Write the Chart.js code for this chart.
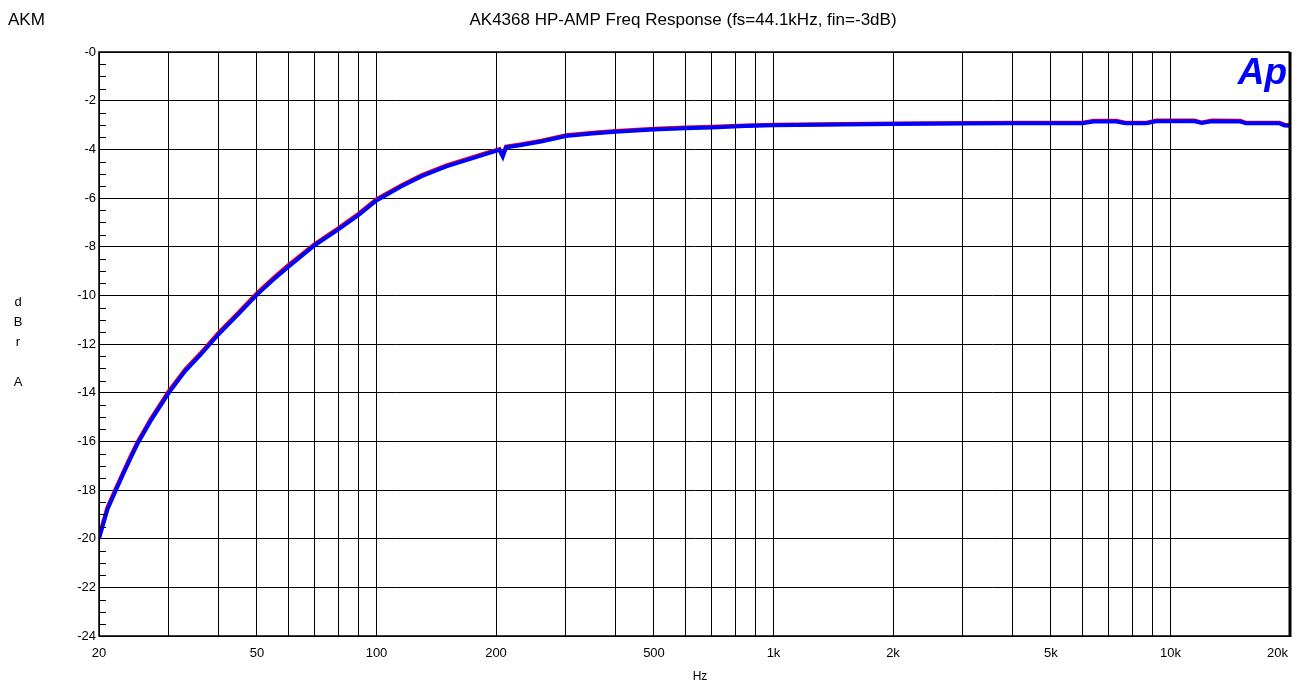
<!DOCTYPE html>
<html>
<head>
<meta charset="utf-8">
<script src="https://cdn.jsdelivr.net/npm/chart.js@4.4.1/dist/chart.umd.min.js"></script>
<style>
  html, body { margin: 0; padding: 0; background: #fff; }
  #wrap { width: 1301px; height: 688px; position: relative; }
</style>
</head>
<body>
<div id="wrap"><canvas id="freqChart"></canvas></div>
<script>
// frequency response
const freqHz = [20, 21, 22, 23, 24, 25, 27, 30, 33, 36, 40, 45, 50, 55, 60, 70, 80, 90, 100,
    115, 130, 150, 170, 190, 200, 204, 208, 212, 230, 260, 300, 350, 400, 500, 600, 700, 850,
    1000, 1500, 2000, 3000, 4000, 5000, 6000, 6400, 7300, 7700, 8700, 9200, 11500, 12000,
    12700, 15000, 15500, 18800, 19400, 20000];

const blueDb = [-20.0, -18.8, -18.05, -17.35, -16.7, -16.1, -15.15, -14.0, -13.1, -12.45, -11.6,
    -10.75, -9.97, -9.35, -8.82, -7.93, -7.3, -6.7, -6.1,
    -5.54, -5.1, -4.7, -4.42, -4.18, -4.06, -4.02, -4.3, -3.92, -3.83, -3.68, -3.45, -3.35,
    -3.28, -3.18, -3.13, -3.1, -3.04,
    -3.01, -2.98, -2.96, -2.94, -2.93, -2.93, -2.93, -2.86, -2.86, -2.93, -2.93, -2.85, -2.85,
    -2.92, -2.85, -2.86, -2.93, -2.93, -3.02, -3.03];

const redDb = [-19.92, -18.72, -17.97, -17.28, -16.63, -16.03, -15.08, -13.93, -13.04, -12.39,
    -11.54, -10.69, -9.91, -9.29, -8.76, -7.88, -7.25, -6.65, -6.05,
    -5.5, -5.06, -4.66, -4.38, -4.14, -4.03, -3.99, -4.24, -3.89, -3.8, -3.65, -3.42, -3.32,
    -3.25, -3.15, -3.1, -3.07, -3.02,
    -2.99, -2.96, -2.94, -2.92, -2.91, -2.91, -2.91, -2.83, -2.83, -2.91, -2.91, -2.82, -2.82,
    -2.9, -2.82, -2.83, -2.91, -2.91, -2.99, -3.0];

const xGrid = [20, 30, 40, 50, 60, 70, 80, 90, 100, 200, 300, 400, 500, 600, 700, 800, 900,
    1000, 2000, 3000, 4000, 5000, 6000, 7000, 8000, 9000, 10000, 20000];
const xLabelValues = [20, 50, 100, 200, 500, 1000, 2000, 5000, 10000, 20000];
const xLabelText = ['20', '50', '100', '200', '500', '1k', '2k', '5k', '10k', '20k'];
const yTicks = [0, -2, -4, -6, -8, -10, -12, -14, -16, -18, -20, -22, -24];
const yLabelText = ['-0', '-2', '-4', '-6', '-8', '-10', '-12', '-14', '-16', '-18', '-20', '-22', '-24'];

const FONT = '"Liberation Sans", Arial, sans-serif';

function toPoints(ys) {
    return freqHz.map((f, i) => ({ x: f, y: ys[i] }));
}

// text, minor ticks and frame drawn over the chart
const apDecor = {
    id: 'apDecor',
    afterDraw(chart) {
        const ctx = chart.ctx;
        const xs = chart.scales.x;
        const ys = chart.scales.y;
        const a = chart.chartArea;
        ctx.save();

        // minor ticks on left axis, every 0.5 dB
        ctx.strokeStyle = '#000';
        ctx.lineWidth = 1;
        for (let v = 0; v >= -24; v -= 0.5) {
            if (v % 2 === 0) continue;
            const py = Math.round(ys.getPixelForValue(v)) + 0.5;
            ctx.beginPath();
            ctx.moveTo(a.left, py);
            ctx.lineTo(a.left + 7, py);
            ctx.stroke();
        }

        // frame
        ctx.lineWidth = 1.5;
        ctx.beginPath();
        ctx.moveTo(a.right, a.top);
        ctx.lineTo(a.left, a.top);
        ctx.lineTo(a.left, a.bottom);
        ctx.lineTo(a.right, a.bottom);
        ctx.stroke();
        ctx.lineWidth = 3;
        ctx.beginPath();
        ctx.moveTo(a.right, a.top);
        ctx.lineTo(a.right, a.bottom + 1);
        ctx.stroke();

        ctx.fillStyle = '#000';
        // y tick labels
        ctx.font = '13px ' + FONT;
        ctx.textAlign = 'right';
        ctx.textBaseline = 'middle';
        yTicks.forEach((v, i) => {
            ctx.fillText(yLabelText[i], a.left - 3, ys.getPixelForValue(v));
        });

        // x tick labels
        ctx.textBaseline = 'middle';
        xLabelValues.forEach((v, i) => {
            const last = i === xLabelValues.length - 1;
            ctx.textAlign = last ? 'right' : 'center';
            const px = xs.getPixelForValue(v);
            ctx.fillText(xLabelText[i], last ? px - 2 : px, a.bottom + 17);
        });

        // axis titles
        ctx.font = '12px ' + FONT;
        ctx.textAlign = 'center';
        ctx.fillText('Hz', 700, 677);
        ctx.font = '13px ' + FONT;
        [['d', 302], ['B', 322], ['r', 342], ['A', 382]].forEach(([ch, y]) => {
            ctx.fillText(ch, 18, y);
        });

        // header
        ctx.font = '17px ' + FONT;
        ctx.textAlign = 'left';
        ctx.fillText('AKM', 8, 20);
        ctx.textAlign = 'center';
        ctx.fillText('AK4368 HP-AMP Freq Response (fs=44.1kHz, fin=-3dB)', 683, 20);

        // Ap logo
        ctx.fillStyle = '#0000ff';
        ctx.font = 'italic bold 37px ' + FONT;
        ctx.textAlign = 'right';
        ctx.textBaseline = 'alphabetic';
        ctx.fillText('Ap', a.right - 3, 84);

        ctx.restore();
    }
};

new Chart(document.getElementById('freqChart'), {
    type: 'line',
    data: {
        datasets: [
            {
                label: 'Ch B',
                data: toPoints(blueDb),
                borderColor: '#0000ff',
                borderWidth: 4,
                pointRadius: 0,
                tension: 0,
                fill: false,
                order: 1
            },
            {
                label: 'Ch A',
                data: toPoints(redDb),
                borderColor: '#ff0000',
                borderWidth: 4,
                pointRadius: 0,
                tension: 0,
                fill: false,
                order: 2
            }
        ]
    },
    options: {
        responsive: true,
        maintainAspectRatio: false,
        animation: false,
        layout: { padding: { left: 99, top: 52, right: 11, bottom: 52 } },
        plugins: {
            legend: { display: false },
            title: { display: false },
            tooltip: { enabled: false }
        },
        scales: {
            x: {
                type: 'logarithmic',
                min: 20,
                max: 20000,
                afterBuildTicks: (s) => { s.ticks = xGrid.map(v => ({ value: v })); },
                ticks: { display: false },
                grid: { color: '#000', lineWidth: 1, drawTicks: false },
                border: { display: false }
            },
            y: {
                type: 'linear',
                min: -24,
                max: 0,
                afterBuildTicks: (s) => { s.ticks = yTicks.map(v => ({ value: v })); },
                ticks: { display: false },
                grid: { color: '#000', lineWidth: 1, drawTicks: false },
                border: { display: false }
            }
        }
    },
    plugins: [apDecor]
});
</script>
</body>
</html>
